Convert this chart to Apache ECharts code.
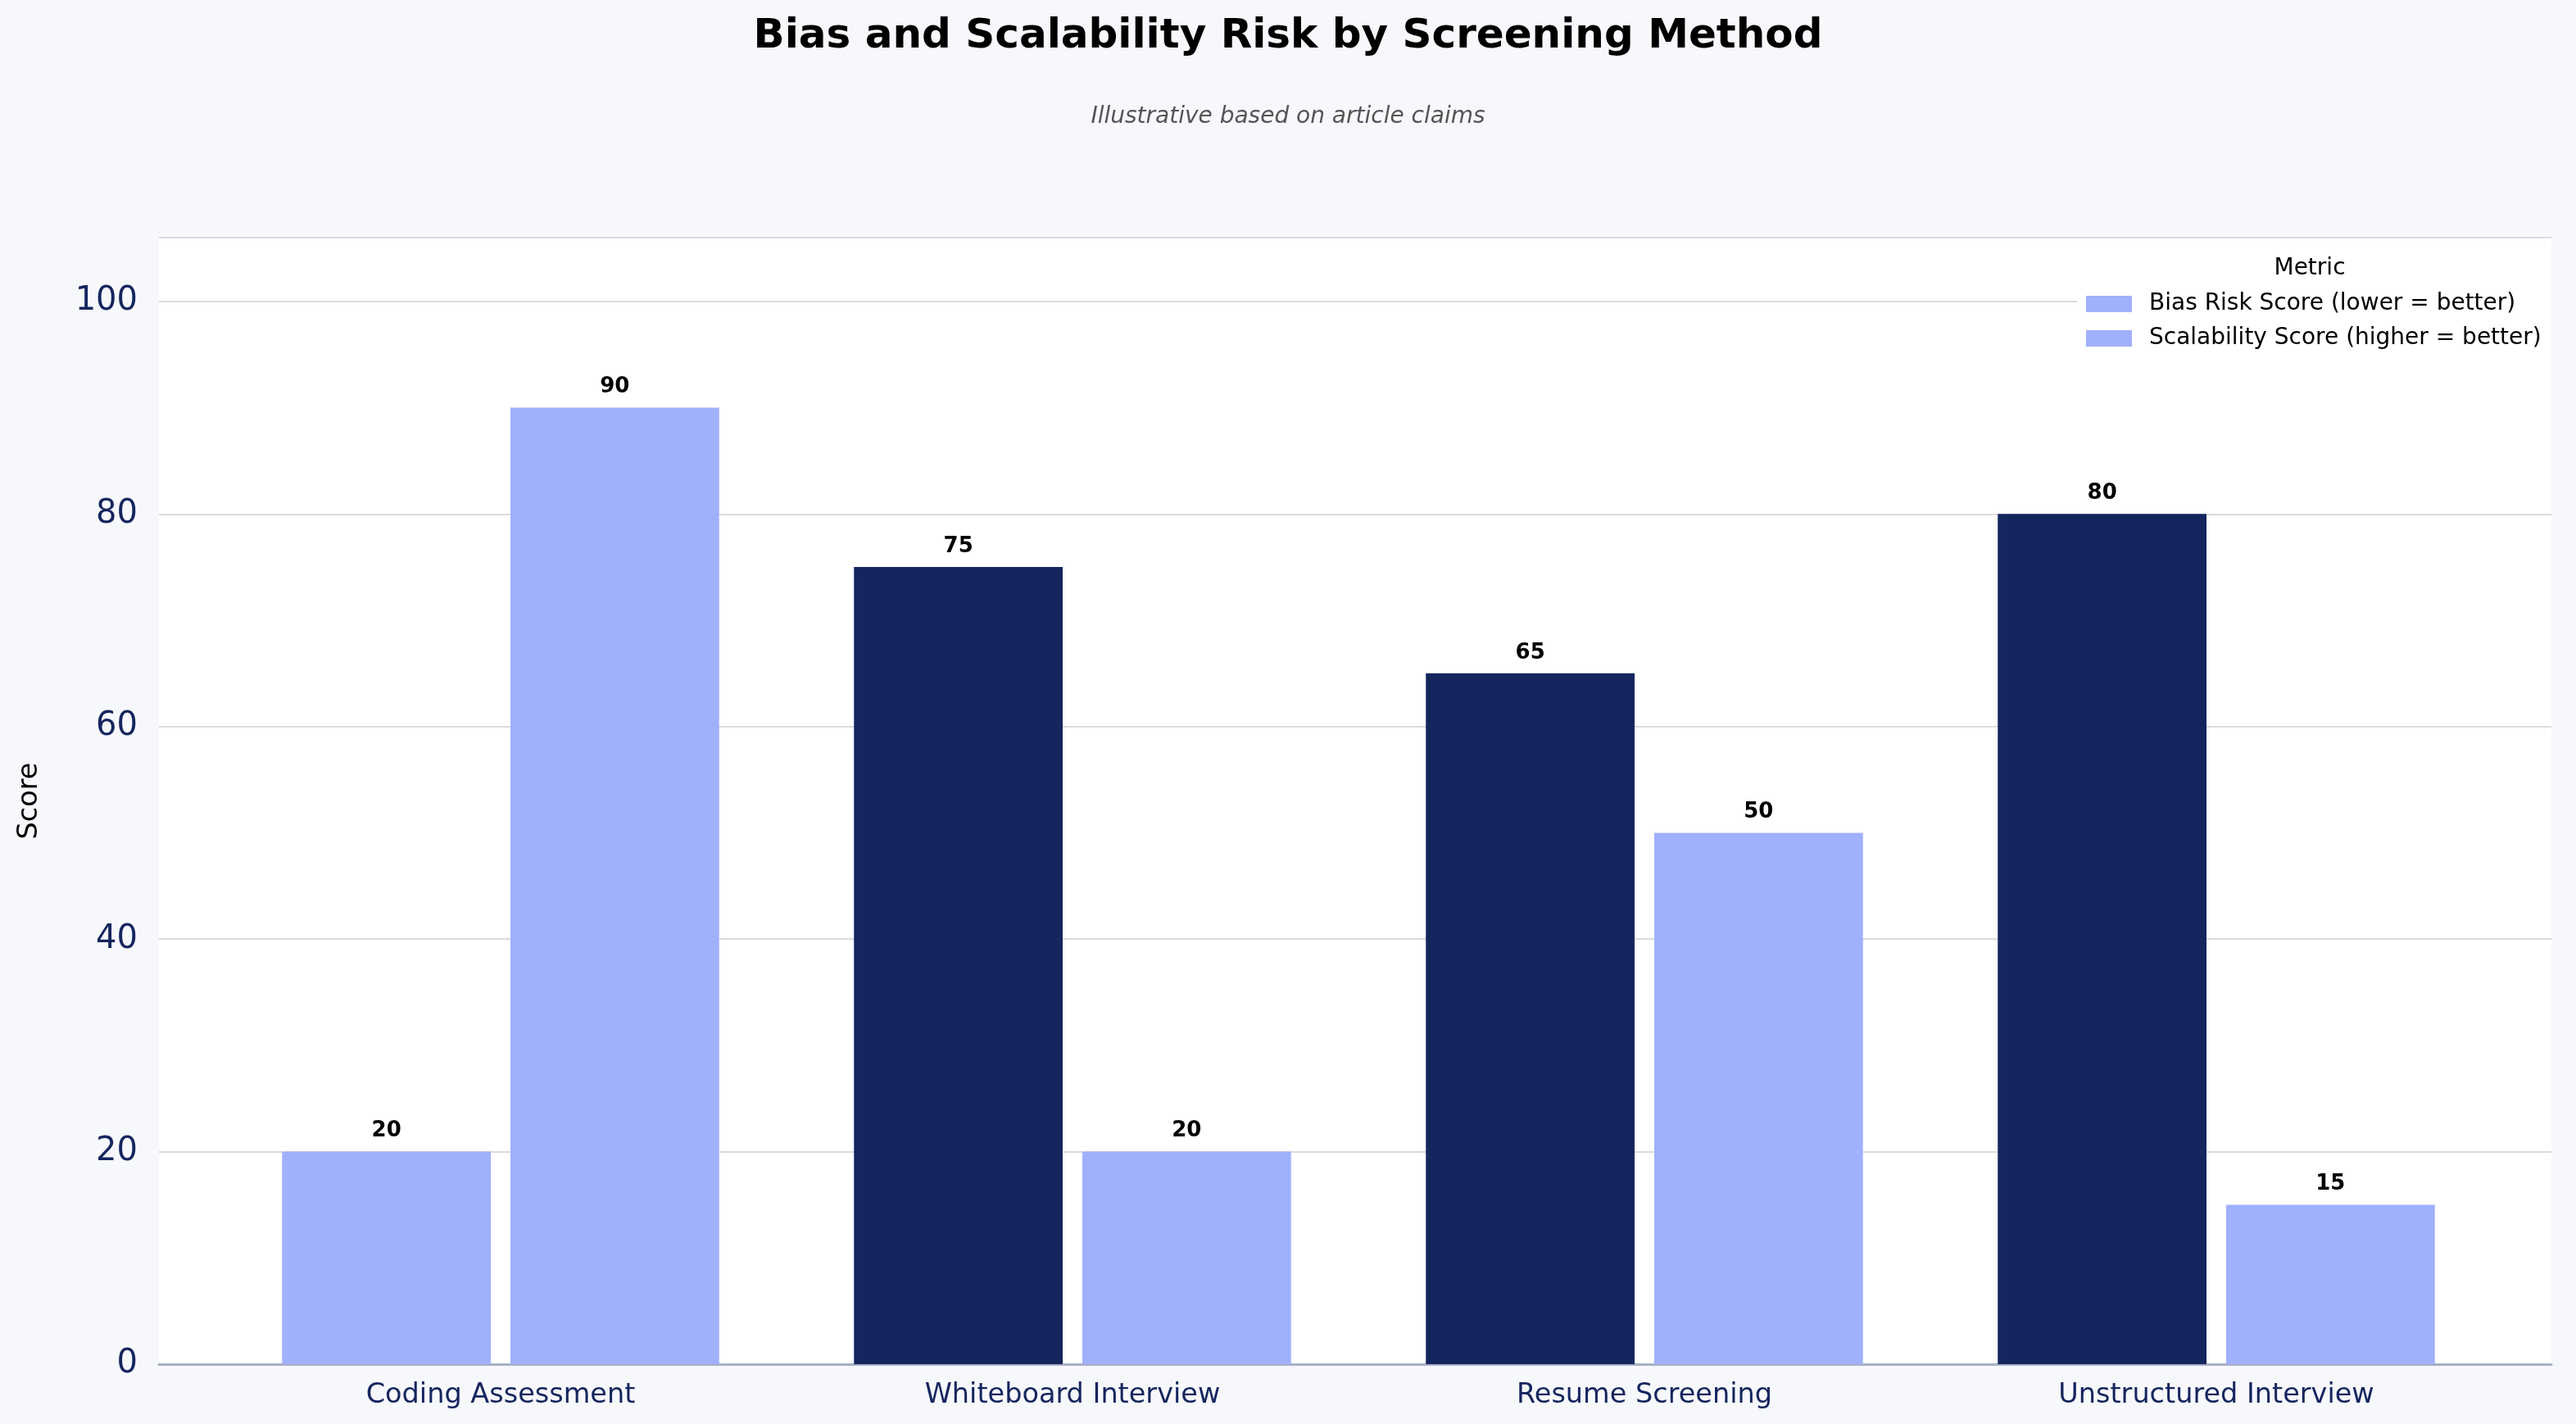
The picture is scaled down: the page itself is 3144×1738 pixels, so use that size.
<!DOCTYPE html>
<html>
<head>
<meta charset="utf-8">
<script src="https://cdn.jsdelivr.net/npm/echarts@6/dist/echarts.min.js"></script>
<style>
  html, body { margin: 0; padding: 0; background: #f7f8fc; }
  #chart { width: 3144px; height: 1738px; }
</style>
</head>
<body>
<div id="chart"></div>
<script>
const categories = ['Coding Assessment', 'Whiteboard Interview', 'Resume Screening', 'Unstructured Interview'];
const biasRisk = [20, 75, 65, 80];
const scalability = [90, 20, 50, 15];
const seriesNames = ['Bias Risk Score (lower = better)', 'Scalability Score (higher = better)'];

const NAVY = '#15255e';
const LIGHT = '#a0b0fd';
const FONT = 'DejaVu Sans';

const labelStyle = {
  show: true,
  position: 'top',
  distance: 12,
  color: '#000',
  fontWeight: 'bold',
  fontSize: 26,
  fontFamily: FONT
};

const option = {
  backgroundColor: '#f7f8fc',
  animation: false,
  textStyle: { fontFamily: FONT },
  title: [
    {
      text: 'Bias and Scalability Risk by Screening Method',
      left: 'center',
      top: 15,
      textStyle: { fontSize: 50, fontWeight: 'bold', color: '#000', fontFamily: FONT }
    },
    {
      text: 'Illustrative based on article claims',
      left: 'center',
      top: 124,
      textStyle: { fontSize: 28, fontStyle: 'italic', fontWeight: 'normal', color: '#555', fontFamily: FONT }
    },
    {
      text: 'Metric',
      left: 2814,
      textAlign: 'center',
      top: 309,
      textStyle: { fontSize: 28, fontWeight: 'normal', color: '#000', fontFamily: FONT }
    }
  ],
  legend: {
    orient: 'vertical',
    left: 2535,
    top: 295,
    padding: [62, 12, 16, 11],
    backgroundColor: '#ffffff',
    itemWidth: 56,
    itemHeight: 20,
    itemGap: 14,
    icon: 'rect',
    textStyle: { fontSize: 28, lineHeight: 28, color: '#000', fontFamily: FONT, padding: [0, 0, 0, 16] },
    data: [
      { name: seriesNames[0], itemStyle: { color: LIGHT } },
      { name: seriesNames[1], itemStyle: { color: LIGHT } }
    ]
  },
  grid: [
    { left: 194, right: 30, top: 290, bottom: 73, show: true, backgroundColor: '#ffffff', borderWidth: 0 },
    { left: 262, right: 90, top: 290, bottom: 73 }
  ],
  xAxis: [
    {
      type: 'category',
      gridIndex: 0,
      data: [''],
      axisLine: { show: true, lineStyle: { color: '#a9b0c6', width: 3 } },
      axisTick: { show: false },
      axisLabel: { show: false }
    },
    {
      type: 'category',
      gridIndex: 1,
      data: categories,
      axisLine: { show: false },
      axisTick: { show: false },
      axisLabel: { fontSize: 33.5, color: NAVY, fontFamily: FONT, margin: 21 }
    }
  ],
  yAxis: [
    {
      type: 'value',
      gridIndex: 0,
      min: 0,
      max: 106,
      interval: 20,
      name: 'Score',
      nameLocation: 'middle',
      nameGap: 141,
      nameTextStyle: { fontSize: 33.5, color: '#000', fontFamily: FONT },
      axisLine: { show: false },
      axisTick: { show: false },
      axisLabel: { fontSize: 40, color: NAVY, fontFamily: FONT, margin: 26, showMaxLabel: false },
      splitLine: { show: true, lineStyle: { color: '#cfcfcf', width: 1.5 } }
    },
    {
      type: 'value',
      gridIndex: 1,
      min: 0,
      max: 106,
      interval: 20,
      show: false,
      splitLine: { show: false }
    }
  ],
  series: [
    {
      name: seriesNames[0],
      type: 'bar',
      xAxisIndex: 1,
      yAxisIndex: 1,
      barWidth: '36.5%',
      barGap: '9.4%',
      itemStyle: { color: NAVY },
      label: labelStyle,
      data: biasRisk.map((v, i) => (i === 0 ? { value: v, itemStyle: { color: LIGHT } } : v))
    },
    {
      name: seriesNames[1],
      type: 'bar',
      xAxisIndex: 1,
      yAxisIndex: 1,
      barWidth: '36.5%',
      barGap: '9.4%',
      itemStyle: { color: LIGHT },
      label: labelStyle,
      data: scalability
    }
  ]
};

const myChart = echarts.init(document.getElementById('chart'));
myChart.setOption(option);
</script>
</body>
</html>
